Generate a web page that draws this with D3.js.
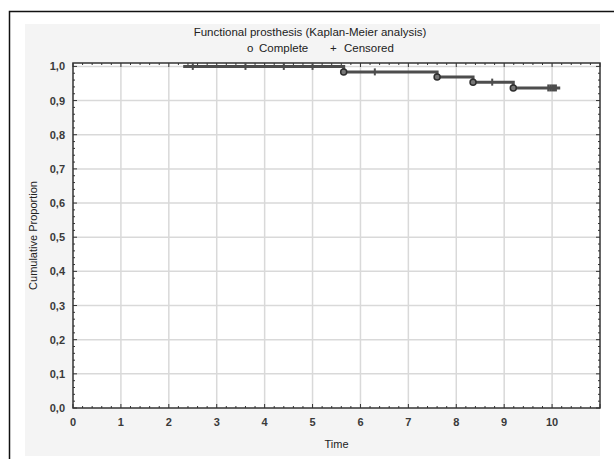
<!DOCTYPE html>
<html>
<head>
<meta charset="utf-8">
<script src="https://cdn.jsdelivr.net/npm/d3@7"></script>
<style>
  body { margin: 0; background: #fff; }
  svg { display: block; font-family: "Liberation Sans", Arial, sans-serif; }
</style>
</head>
<body>
<svg id="chart" width="614" height="459"></svg>
<script>
// Kaplan-Meier steps: time of each complete event and proportion after it
const startTime = 2.3;
const eventTimes = [5.65, 7.6, 8.35, 9.19];
const eventProps = [0.984, 0.969, 0.954, 0.937];
const endTime = 10.17;
// censored observations
const censorTimes = [2.5, 3.6, 4.4, 5.0, 6.3, 8.75, 9.92, 9.96, 10.0, 10.04, 10.08];
const xTicks = [0, 1, 2, 3, 4, 5, 6, 7, 8, 9, 10];
const yTicks = [0, 0.1, 0.2, 0.3, 0.4, 0.5, 0.6, 0.7, 0.8, 0.9, 1.0];

const svg = d3.select('#chart');
const pLeft = 73, pRight = 600, pTop = 63, pBottom = 408;

const x = d3.scaleLinear().domain([0, 11]).range([pLeft, pRight]);
const y = d3.scaleLinear().domain([0, 1.01]).range([pBottom, pTop]);

// outer frame and grey panel
svg.append('rect').attr('x', 9.5).attr('y', 11.5).attr('width', 700).attr('height', 600)
    .style('fill', '#fff').style('stroke', '#111').style('stroke-width', 1.5);
svg.append('rect').attr('x', 25).attr('y', 24).attr('width', 575).attr('height', 432)
    .style('fill', '#f4f4f4');
svg.append('rect').attr('x', pLeft).attr('y', pTop).attr('width', pRight - pLeft).attr('height', pBottom - pTop)
    .style('fill', '#fff');

// grid
svg.append('g').selectAll('line').data(xTicks.filter(d => d > 0)).join('line')
    .attr('x1', d => x(d)).attr('x2', d => x(d)).attr('y1', pTop).attr('y2', pBottom)
    .style('stroke', '#d9d9d9').style('stroke-width', 1.5);
svg.append('g').selectAll('line').data(yTicks.filter(d => d > 0)).join('line')
    .attr('x1', pLeft).attr('x2', pRight).attr('y1', d => y(d)).attr('y2', d => y(d))
    .style('stroke', '#d9d9d9').style('stroke-width', 1.5);

// inward ticks on all sides
const xMinor = d3.range(0, 11.01, 0.2).map(v => +v.toFixed(1));
const yMinor = d3.range(0, 1.011, 0.02).map(v => +v.toFixed(2));
const tickG = svg.append('g').style('stroke', '#333').style('stroke-width', 1);
xMinor.forEach(v => {
    const major = Math.abs(v - Math.round(v)) < 1e-6;
    const len = major ? 4 : 2;
    tickG.append('line').attr('x1', x(v)).attr('x2', x(v)).attr('y1', pBottom).attr('y2', pBottom - len);
    tickG.append('line').attr('x1', x(v)).attr('x2', x(v)).attr('y1', pTop).attr('y2', pTop + len);
});
yMinor.forEach(v => {
    const major = Math.abs(v * 10 - Math.round(v * 10)) < 1e-6;
    const len = major ? 4 : 2;
    tickG.append('line').attr('y1', y(v)).attr('y2', y(v)).attr('x1', pLeft).attr('x2', pLeft + len);
    tickG.append('line').attr('y1', y(v)).attr('y2', y(v)).attr('x1', pRight).attr('x2', pRight - len);
});
svg.append('rect').attr('x', pLeft).attr('y', pTop).attr('width', pRight - pLeft).attr('height', pBottom - pTop)
    .style('fill', 'none').style('stroke', '#333').style('stroke-width', 1.5);

// tick labels
svg.append('g').selectAll('text').data(xTicks).join('text')
    .attr('x', d => x(d)).attr('y', pBottom + 18)
    .attr('text-anchor', 'middle')
    .style('font-size', '11px').style('font-weight', 'bold').style('fill', '#3a3a3a')
    .text(d => d);
svg.append('g').selectAll('text').data(yTicks).join('text')
    .attr('x', pLeft - 8).attr('y', d => y(d) + 4)
    .attr('text-anchor', 'end')
    .style('font-size', '11px').style('font-weight', 'bold').style('fill', '#3a3a3a')
    .text(d => d3.format('.1f')(d).replace('.', ','));

// axis titles
svg.append('text').attr('x', (pLeft + pRight) / 2).attr('y', pBottom + 40)
    .attr('text-anchor', 'middle').style('font-size', '11px').style('fill', '#222').text('Time');
svg.append('text').attr('transform', `translate(37,${(pTop + pBottom) / 2}) rotate(-90)`)
    .attr('text-anchor', 'middle').style('font-size', '11px').style('fill', '#222')
    .text('Cumulative Proportion');

// title and legend
svg.append('text').attr('x', 310).attr('y', 36).attr('text-anchor', 'middle')
    .style('font-size', '11.5px').style('fill', '#222')
    .text('Functional prosthesis (Kaplan-Meier analysis)');
const legend = svg.append('text').attr('y', 52)
    .style('font-size', '11.5px').style('fill', '#222');
legend.append('tspan').attr('x', 247).text('o');
legend.append('tspan').attr('x', 259).text('Complete');
legend.append('tspan').attr('x', 330).text('+');
legend.append('tspan').attr('x', 344).text('Censored');

// survival step curve
const pts = [[startTime, 1.0]];
let level = 1.0;
eventTimes.forEach((t, i) => {
    pts.push([t, level]);
    level = eventProps[i];
    pts.push([t, level]);
});
pts.push([endTime, level]);

const line = d3.line().x(d => x(d[0])).y(d => y(d[1]));
svg.append('path').datum(pts).attr('d', line)
    .style('fill', 'none').style('stroke', '#4d4d4d').style('stroke-width', 3);

// proportion at a given time
const propAt = t => {
    let p = 1.0;
    eventTimes.forEach((e, i) => { if (t >= e) p = eventProps[i]; });
    return p;
};

// censored marks
svg.append('g').selectAll('line').data(censorTimes).join('line')
    .attr('x1', d => x(d)).attr('x2', d => x(d))
    .attr('y1', d => y(propAt(d)) - 3.5).attr('y2', d => y(propAt(d)) + 3.5)
    .style('stroke', '#4d4d4d').style('stroke-width', 2);

// complete events
svg.append('g').selectAll('circle').data(eventTimes).join('circle')
    .attr('cx', d => x(d)).attr('cy', (d, i) => y(eventProps[i]))
    .attr('r', 3)
    .style('fill', '#777').style('stroke', '#2e2e2e').style('stroke-width', 1.5);
</script>
</body>
</html>
